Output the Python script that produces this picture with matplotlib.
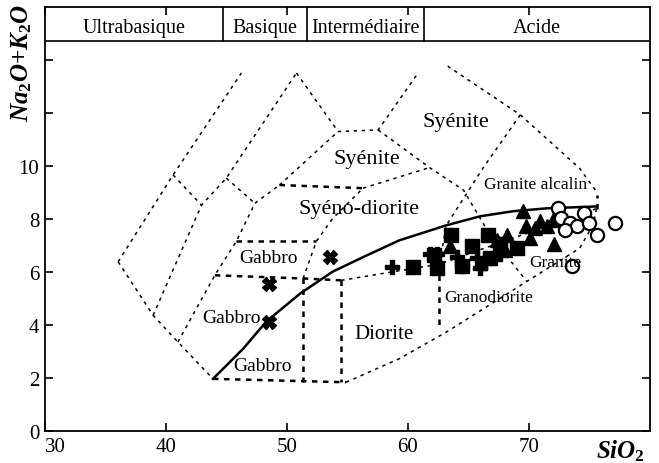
import matplotlib
matplotlib.use('Agg')
import matplotlib.pyplot as plt
import numpy as np

plt.rcParams['font.family'] = 'Liberation Serif'
plt.rcParams['mathtext.fontset'] = 'custom'
plt.rcParams['mathtext.it'] = 'Liberation Serif:italic:bold'
plt.rcParams['mathtext.rm'] = 'Liberation Serif:bold'

# alkaline / subalkaline divide
curve_x = [43.9, 46.4, 48.3, 51.1, 53.8, 56.6, 59.3, 63.2, 66.0, 68.7, 71.5, 75.6]
curve_y = [1.97, 3.11, 4.13, 5.19, 6.02, 6.63, 7.20, 7.77, 8.11, 8.30, 8.41, 8.48]

# samples
cross_x = [58.7, 61.8, 62.4, 64.1, 64.5, 65.7, 66.4, 66.0, 67.6]
cross_y = [6.21, 6.70, 6.70, 6.59, 6.25, 6.52, 6.33, 6.14, 6.70]
square_x = [60.4, 62.4, 63.6, 62.2, 65.3, 66.6, 66.8, 64.5, 69.0, 67.6]
square_y = [6.21, 6.14, 7.39, 6.63, 6.97, 7.39, 6.52, 6.25, 6.90, 7.08]
tri_x = [69.5, 68.2, 72.1, 69.8, 70.9, 71.5, 67.4, 63.5, 68.0, 70.5, 72.0, 70.1]
tri_y = [8.30, 7.39, 7.08, 7.73, 7.92, 7.73, 7.20, 7.00, 6.82, 7.65, 7.95, 7.27]
circ_x = [72.4, 72.7, 73.4, 74.0, 74.6, 75.0, 75.6, 77.1, 73.6, 73.0]
circ_y = [8.41, 8.03, 7.84, 7.73, 8.22, 7.84, 7.39, 7.84, 6.25, 7.58]
xmark_x = [53.6, 48.5, 48.5]
xmark_y = [6.59, 5.57, 4.12]

# field boundaries (fine dotted)
fields = [
    ([36.06, 40.6, 46.25], [6.39, 9.67, 13.52]),
    ([36.06, 38.95, 41.0, 43.9], [6.39, 4.37, 3.36, 1.97]),
    ([40.6, 42.95], [9.67, 8.53]),
    ([38.95, 42.95, 45.0, 50.8], [4.37, 8.53, 9.55, 13.52]),
    ([45.0, 47.36], [9.55, 8.6]),
    ([41.0, 44.05, 45.84, 47.36, 49.4], [3.36, 5.88, 7.17, 8.6, 9.29]),
    ([50.8, 54.24, 57.55, 60.85], [13.52, 11.31, 11.37, 13.52]),
    ([49.4, 54.24], [9.29, 11.31]),
    ([56.3, 61.8], [9.17, 9.95]),
    ([57.55, 61.8, 64.6, 66.8, 69.8], [11.37, 9.95, 9.1, 7.4, 5.67]),
    ([63.3, 69.3, 74.2, 75.5], [13.78, 11.94, 9.92, 9.1]),
    ([69.3, 66.2, 63.2, 62.6], [11.94, 9.92, 7.78, 6.3]),
    ([51.35, 52.45, 53.8, 56.3], [5.76, 7.17, 8.03, 9.17]),
    ([54.5, 62.6, 75.6], [5.69, 6.3, 8.4]),
    ([54.9, 59.3, 63.2, 74.2, 75.3, 75.6], [1.84, 2.73, 3.74, 6.9, 7.77, 8.4]),
]
# heavier dashed boxes
boxes = [
    ([49.4, 56.3], [9.29, 9.17]),
    ([45.84, 52.45], [7.17, 7.17]),
    ([44.05, 51.35, 54.5], [5.88, 5.76, 5.69]),
    ([43.9, 54.9], [1.97, 1.84]),
    ([51.35, 51.35], [5.76, 1.86]),
    ([54.5, 54.5], [5.69, 1.84]),
    ([62.6, 62.6], [6.3, 3.86]),
    ([75.6, 75.6], [8.4, 8.9]),
]

field_labels = [
    (64.0, 11.7, 'Syénite', 16),
    (56.6, 10.3, 'Syénite', 16),
    (56.0, 8.4, 'Syéno-diorite', 16),
    (70.6, 9.32, 'Granite alcalin', 12.5),
    (48.5, 6.55, 'Gabbro', 14),
    (45.4, 4.3, 'Gabbro', 14),
    (48.0, 2.47, 'Gabbro', 14),
    (58.0, 3.67, 'Diorite', 15),
    (66.7, 5.06, 'Granodiorite', 12.5),
    (72.2, 6.4, 'Granite', 12.5),
]
band_edges = [30, 44.7, 51.65, 61.3, 80]
band_names = ['Ultrabasique', 'Basique', 'Intermédiaire', 'Acide']

fig = plt.figure(figsize=(6.59, 4.64), dpi=100)
ax = fig.add_axes([0.068, 0.069, 0.918, 0.913])
ax.set_xlim(30, 80)
ax.set_ylim(0, 16)

for xs, ys in fields:
    ax.plot(xs, ys, color='black', lw=1.1, ls=(0, (2.2, 3.0)))
for xs, ys in boxes:
    ax.plot(xs, ys, color='black', lw=1.8, ls=(0, (2.2, 2.2)))

ax.plot(curve_x, curve_y, color='black', lw=1.8)

ax.plot(cross_x, cross_y, 'P', color='black', ms=9.5, ls='none')
ax.plot(square_x, square_y, 's', color='black', ms=9.5, ls='none')
ax.plot(tri_x, tri_y, '^', color='black', ms=10.5, ls='none')
ax.plot(circ_x, circ_y, 'o', mfc='white', mec='black', mew=1.6, ms=9.5, ls='none')
ax.plot(xmark_x, xmark_y, 'X', color='black', ms=10, ls='none')

for x, y, s, fs in field_labels:
    ax.text(x, y, s, fontsize=fs, ha='center', va='center')

# rock type band across the top
band_lo = 14.72
ax.axhline(band_lo, color='black', lw=1.2)
for e in band_edges[1:-1]:
    ax.plot([e, e], [band_lo, 16], color='black', lw=1.2)
for i, name in enumerate(band_names):
    ax.text((band_edges[i] + band_edges[i + 1]) / 2, 15.25, name,
            fontsize=14.5, ha='center', va='center')

ax.set_xticks([30, 40, 50, 60, 70])
ax.set_xticklabels(['30', '40', '50', '60', '70'], fontsize=15)
ax.get_xticklabels()[0].set_ha('left')
ax.set_yticks(range(0, 16, 2))
ax.set_yticklabels(['0', '2', '4', '6', '8', '10', '', ''], fontsize=15)
ax.tick_params(direction='in', length=6, width=1.2, top=True, right=True)
ax.tick_params(axis='x', pad=4)
ax.tick_params(axis='y', pad=4)
for sp in ax.spines.values():
    sp.set_linewidth(1.3)

fig.text(0.978, 0.012, r'$SiO_2$', fontsize=18, ha='right')
fig.text(0.014, 0.99, r'$Na_2O{+}K_2O$', fontsize=18, rotation=90, va='top')

fig.savefig('out.png', dpi=100)
